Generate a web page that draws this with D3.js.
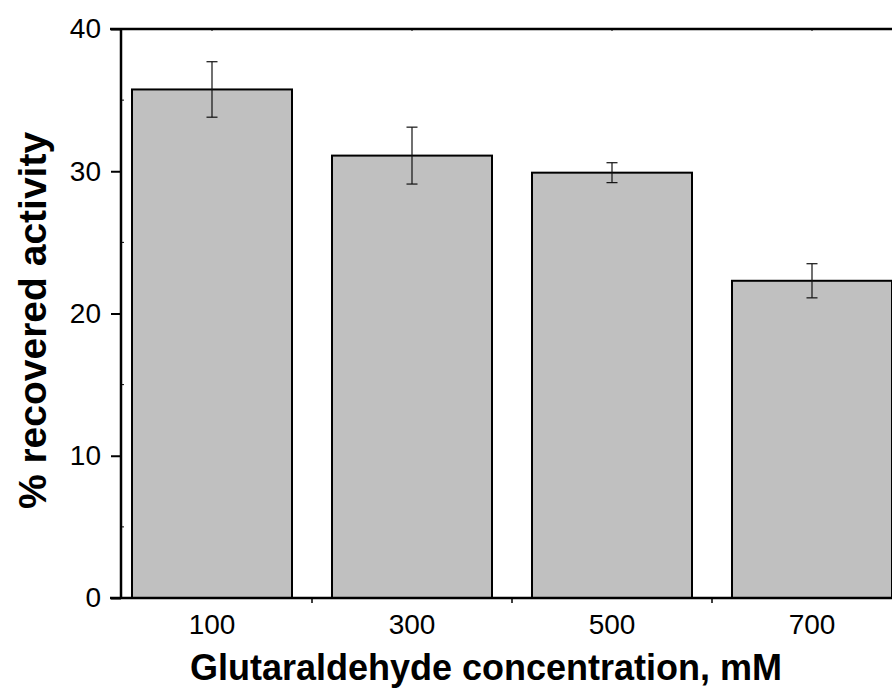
<!DOCTYPE html>
<html lang="en">
<head>
  <meta charset="utf-8">
  <title>Recovered activity vs glutaraldehyde</title>
  <style>
    body { margin: 0; background: #fff; }
    svg { display: block; font-family: "Liberation Sans", Arial, sans-serif; }
  </style>
</head>
<body>
  <div id="chart"></div>

  <script src="https://cdn.jsdelivr.net/npm/d3@7"></script>
  <script type="text/javascript">
    // values
    const concentrations = ['100', '300', '500', '700'];
    const activity = [35.75, 31.1, 29.9, 22.3];
    const errors = [1.95, 2.0, 0.7, 1.2];
    const yTicks = [0, 10, 20, 30, 40];
    const yMinorTicks = [5, 15, 25, 35];

    const width = 892;
    const height = 691;
    const margin = { top: 29, right: 0, bottom: 93, left: 121 };

    const data = concentrations.map((c, i) => ({ c: c, v: activity[i], e: errors[i] }));

    const x = d3.scaleBand()
      .domain(concentrations)
      .range([112, 912])
      .paddingInner(0.2)
      .paddingOuter(0.1);
    const y = d3.scaleLinear()
      .domain([0, 40])
      .range([height - margin.bottom, margin.top]);

    const svg = d3.select('#chart').append('svg')
      .attr('width', width)
      .attr('height', height);

    // bars
    svg.selectAll('rect.bar')
      .data(data)
      .enter()
      .append('rect')
      .attr('class', 'bar')
      .attr('x', d => x(d.c))
      .attr('y', d => y(d.v))
      .attr('width', x.bandwidth())
      .attr('height', d => y(0) - y(d.v))
      .attr('fill', '#c0c0c0')
      .attr('stroke', '#000')
      .attr('stroke-width', 2);

    // error bars
    const cap = 5.5;
    const eb = svg.selectAll('g.err')
      .data(data)
      .enter()
      .append('g')
      .attr('class', 'err')
      .attr('stroke', '#111')
      .attr('stroke-width', 1.2);
    eb.append('line')
      .attr('x1', d => x(d.c) + x.bandwidth() / 2)
      .attr('x2', d => x(d.c) + x.bandwidth() / 2)
      .attr('y1', d => y(d.v + d.e))
      .attr('y2', d => y(d.v - d.e));
    eb.append('line')
      .attr('x1', d => x(d.c) + x.bandwidth() / 2 - cap)
      .attr('x2', d => x(d.c) + x.bandwidth() / 2 + cap)
      .attr('y1', d => y(d.v + d.e))
      .attr('y2', d => y(d.v + d.e));
    eb.append('line')
      .attr('x1', d => x(d.c) + x.bandwidth() / 2 - cap)
      .attr('x2', d => x(d.c) + x.bandwidth() / 2 + cap)
      .attr('y1', d => y(d.v - d.e))
      .attr('y2', d => y(d.v - d.e));

    // y axis
    const yAxis = svg.append('g')
      .attr('transform', `translate(${margin.left},0)`)
      .call(d3.axisLeft(y).tickValues(yTicks).tickSize(10).tickPadding(10).tickFormat(d3.format('d')));
    yAxis.select('.domain').remove();
    yAxis.selectAll('.tick line').attr('stroke-width', 2);
    yAxis.selectAll('.tick text')
      .attr('font-size', 28)
      .attr('font-family', '"Liberation Sans", Arial, sans-serif')
      .attr('fill', '#000');

    svg.append('g')
      .selectAll('line')
      .data(yMinorTicks)
      .enter()
      .append('line')
      .attr('x1', margin.left)
      .attr('x2', margin.left + 3)
      .attr('y1', d => y(d))
      .attr('y2', d => y(d))
      .attr('stroke', '#000')
      .attr('stroke-width', 1);

    svg.append('line')
      .attr('x1', margin.left).attr('x2', margin.left)
      .attr('y1', y(40) - 1).attr('y2', y(0) + 1)
      .attr('stroke', '#000').attr('stroke-width', 2.5);

    // x axis
    const xAxis = svg.append('g')
      .attr('transform', `translate(0,${y(0)})`)
      .call(d3.axisBottom(x).tickSize(0).tickPadding(16));
    xAxis.select('.domain').remove();
    xAxis.selectAll('.tick text')
      .attr('font-size', 28)
      .attr('font-family', '"Liberation Sans", Arial, sans-serif')
      .attr('fill', '#000');

    svg.append('line')
      .attr('x1', margin.left - 11).attr('x2', width)
      .attr('y1', y(0)).attr('y2', y(0))
      .attr('stroke', '#000').attr('stroke-width', 2.5);

    const gap = x.step() * x.paddingInner() / 2;
    svg.append('g')
      .selectAll('line')
      .data(concentrations.slice(1))
      .enter()
      .append('line')
      .attr('x1', d => x(d) - gap)
      .attr('x2', d => x(d) - gap)
      .attr('y1', y(0))
      .attr('y2', y(0) + 5)
      .attr('stroke', '#000')
      .attr('stroke-width', 1.5);

    // top border with tiny ticks
    svg.append('line')
      .attr('x1', margin.left - 11).attr('x2', width)
      .attr('y1', y(40)).attr('y2', y(40))
      .attr('stroke', '#000').attr('stroke-width', 2.5);
    svg.append('g')
      .selectAll('line')
      .data(concentrations)
      .enter()
      .append('line')
      .attr('x1', d => x(d) + x.bandwidth() / 2)
      .attr('x2', d => x(d) + x.bandwidth() / 2)
      .attr('y1', y(40))
      .attr('y2', y(40) + 2)
      .attr('stroke', '#000')
      .attr('stroke-width', 1);

    // axis titles
    svg.append('text')
      .attr('x', 486)
      .attr('y', 680)
      .attr('text-anchor', 'middle')
      .attr('font-size', 36)
      .attr('font-weight', 'bold')
      .text('Glutaraldehyde concentration, mM');

    svg.append('text')
      .attr('transform', `translate(46,${(y(0) + y(40)) / 2 + 7}) rotate(-90)`)
      .attr('text-anchor', 'middle')
      .attr('font-size', 39)
      .attr('font-weight', 'bold')
      .text('% recovered activity');
  </script>
</body>
</html>
